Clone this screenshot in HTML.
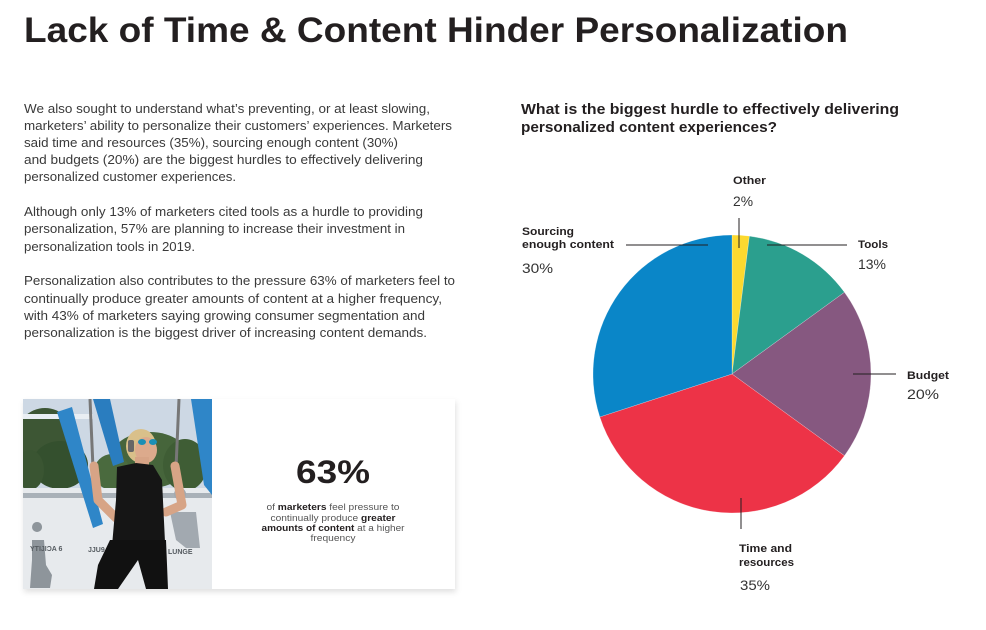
<!DOCTYPE html>
<html><head><meta charset="utf-8"><style>
html,body{margin:0;padding:0;background:#fff;}
svg{display:block;}
text{font-family:"Liberation Sans",sans-serif;}
</style></head><body>
<svg width="986" height="630" viewBox="0 0 986 630" xmlns="http://www.w3.org/2000/svg">
<defs>
<filter id="sh" x="-10%" y="-10%" width="120%" height="125%">
<feDropShadow dx="1" dy="3" stdDeviation="3" flood-color="#000" flood-opacity="0.12"/>
</filter>
<clipPath id="pc"><rect x="23" y="399" width="189" height="190"/></clipPath>
</defs>
<rect width="986" height="630" fill="#fff"/>

<!-- Title -->
<text x="24" y="42" font-size="35" font-weight="bold" fill="#231f20" textLength="824" lengthAdjust="spacingAndGlyphs">Lack of Time &amp; Content Hinder Personalization</text>

<!-- Body paragraphs -->
<g font-size="12.5" fill="#3a3a3a">
<text x="24" y="113" textLength="406" lengthAdjust="spacingAndGlyphs">We also sought to understand what’s preventing, or at least slowing,</text>
<text x="24" y="130" textLength="428" lengthAdjust="spacingAndGlyphs">marketers’ ability to personalize their customers’ experiences. Marketers</text>
<text x="24" y="147" textLength="374" lengthAdjust="spacingAndGlyphs">said time and resources (35%), sourcing enough content (30%)</text>
<text x="24" y="164" textLength="399" lengthAdjust="spacingAndGlyphs">and budgets (20%) are the biggest hurdles to effectively delivering</text>
<text x="24" y="181" textLength="212" lengthAdjust="spacingAndGlyphs">personalized customer experiences.</text>
<text x="24" y="216" textLength="399" lengthAdjust="spacingAndGlyphs">Although only 13% of marketers cited tools as a hurdle to providing</text>
<text x="24" y="233" textLength="381" lengthAdjust="spacingAndGlyphs">personalization, 57% are planning to increase their investment in</text>
<text x="24" y="251" textLength="171" lengthAdjust="spacingAndGlyphs">personalization tools in 2019.</text>
<text x="24" y="285" textLength="431" lengthAdjust="spacingAndGlyphs">Personalization also contributes to the pressure 63% of marketers feel to</text>
<text x="24" y="303" textLength="418" lengthAdjust="spacingAndGlyphs">continually produce greater amounts of content at a higher frequency,</text>
<text x="24" y="320" textLength="401" lengthAdjust="spacingAndGlyphs">with 43% of marketers saying growing consumer segmentation and</text>
<text x="24" y="337" textLength="403" lengthAdjust="spacingAndGlyphs">personalization is the biggest driver of increasing content demands.</text>
</g>

<!-- Card -->
<rect x="23" y="399" width="432" height="190" fill="#fff" filter="url(#sh)"/>
<g clip-path="url(#pc)">
  <rect x="23" y="399" width="189" height="190" fill="#cdd8e4"/>
  <!-- trees -->
  <ellipse cx="45" cy="440" rx="30" ry="32" fill="#3d5634"/>
  <ellipse cx="60" cy="465" rx="28" ry="24" fill="#34502e"/>
  <ellipse cx="30" cy="470" rx="14" ry="20" fill="#3a5532"/>
  <rect x="23" y="414" width="70" height="5" fill="#e9eef3"/>
  <ellipse cx="150" cy="460" rx="40" ry="28" fill="#46653b"/>
  <ellipse cx="185" cy="465" rx="22" ry="26" fill="#3f5d35"/>
  <ellipse cx="112" cy="472" rx="18" ry="18" fill="#4a6a3e"/>
  <!-- wall -->
  <rect x="23" y="488" width="189" height="101" fill="#e7eaed"/>
  <rect x="23" y="493" width="189" height="5" fill="#a9b1b8"/>
  <!-- silhouettes -->
  <path d="M37 532 a5 5 0 1 1 0.1 0 M32 540 L44 540 L46 565 L52 575 L50 588 L30 588 L32 560 Z" fill="#8e959b"/>
  <path d="M180 500 a6 6 0 1 1 0.1 0 M170 512 L196 512 L200 548 L186 548 L176 540 Z" fill="#a2a9b0"/>
  <text x="30" y="551" font-size="7" font-weight="bold" fill="#555b60">YTIJIƆA 6</text>
  <text x="88" y="552" font-size="7" font-weight="bold" fill="#555b60">JJU9</text>
  <text x="168" y="554" font-size="7" font-weight="bold" fill="#555b60">LUNGE</text>
  <!-- blue bars -->
  <polygon points="57,412 72,407 103,524 93,528" fill="#2f86c8"/>
  <polygon points="93,399 110,399 124,462 113,466" fill="#2a7dbf"/>
  <polygon points="191,399 212,399 212,495 204,485" fill="#2f86c8"/>
  <!-- chains -->
  <line x1="90" y1="399" x2="93" y2="468" stroke="#777" stroke-width="3"/>
  <line x1="179" y1="399" x2="176" y2="468" stroke="#777" stroke-width="3"/>
  <!-- arms -->
  <path d="M94 466 L98 500 L116 518" stroke="#d7a486" stroke-width="9" fill="none" stroke-linecap="round" stroke-linejoin="round"/>
  <path d="M175 466 L182 505 L166 512" stroke="#d7a486" stroke-width="9" fill="none" stroke-linecap="round" stroke-linejoin="round"/>
  <!-- head -->
  <ellipse cx="141" cy="446" rx="15" ry="17" fill="#d9c08a"/>
  <ellipse cx="146" cy="450" rx="11" ry="13" fill="#dcaa8c"/>
  <rect x="135" y="457" width="14" height="10" fill="#d7a486"/>
  <ellipse cx="142" cy="442" rx="4" ry="3" fill="#1b8fb5"/>
  <ellipse cx="153" cy="442" rx="4" ry="3" fill="#1b8fb5"/>
  <rect x="128" y="440" width="6" height="12" rx="2" fill="#666"/>
  <!-- top -->
  <polygon points="117,467 136,463 153,465 162,480 165,542 112,546 116,500" fill="#151515"/>
  <!-- legs -->
  <path d="M110 540 L166 540 L168 589 L146 589 L138 560 L118 589 L94 589 L98 565 Z" fill="#111"/>
</g>
<text x="333" y="483" font-size="32" font-weight="bold" fill="#231f20" text-anchor="middle" textLength="74" lengthAdjust="spacingAndGlyphs">63%</text>
<g font-size="9" fill="#555" text-anchor="middle">
<text x="333" y="510" textLength="133" lengthAdjust="spacingAndGlyphs">of <tspan font-weight="bold" fill="#231f20">marketers</tspan> feel pressure to</text>
<text x="333" y="521" textLength="125" lengthAdjust="spacingAndGlyphs">continually produce <tspan font-weight="bold" fill="#231f20">greater</tspan></text>
<text x="333" y="531" textLength="143" lengthAdjust="spacingAndGlyphs"><tspan font-weight="bold" fill="#231f20">amounts of content</tspan> at a higher</text>
<text x="333" y="541" textLength="45" lengthAdjust="spacingAndGlyphs">frequency</text>
</g>

<!-- Chart title -->
<g font-size="14.5" font-weight="bold" fill="#231f20">
<text x="521" y="114" textLength="378" lengthAdjust="spacingAndGlyphs">What is the biggest hurdle to effectively delivering</text>
<text x="521" y="132" textLength="256" lengthAdjust="spacingAndGlyphs">personalized content experiences?</text>
</g>

<!-- Pie -->
<g stroke="#ffffff" stroke-width="0.4" stroke-opacity="0.6">
<path d="M732,374 L732,235 A139,139 0 0 1 749.42,236.10 Z" fill="#fcd92f"/>
<path d="M732,374 L749.42,236.10 A139,139 0 0 1 844.45,292.30 Z" fill="#2b9f8e"/>
<path d="M732,374 L844.45,292.30 A139,139 0 0 1 844.45,455.70 Z" fill="#865880"/>
<path d="M732,374 L844.45,455.70 A139,139 0 0 1 599.80,416.95 Z" fill="#ed3347"/>
<path d="M732,374 L599.80,416.95 A139,139 0 0 1 732,235 Z" fill="#0a86c8"/>
</g>

<!-- Leader lines -->
<g stroke="#231f20" stroke-width="1">
<line x1="739" y1="218" x2="739" y2="248"/>
<line x1="626" y1="245" x2="708" y2="245"/>
<line x1="767" y1="245" x2="847" y2="245"/>
<line x1="853" y1="374" x2="896" y2="374"/>
<line x1="741" y1="498" x2="741" y2="529"/>
</g>

<!-- Labels -->
<g fill="#231f20">
<text x="733" y="184" font-size="11" font-weight="bold" textLength="33" lengthAdjust="spacingAndGlyphs">Other</text>
<text x="733" y="206" font-size="14" fill="#333" textLength="20" lengthAdjust="spacingAndGlyphs">2%</text>
<text x="522" y="235" font-size="11" font-weight="bold" textLength="52" lengthAdjust="spacingAndGlyphs">Sourcing</text>
<text x="522" y="248" font-size="11" font-weight="bold" textLength="92" lengthAdjust="spacingAndGlyphs">enough content</text>
<text x="522" y="273" font-size="14" fill="#333" textLength="31" lengthAdjust="spacingAndGlyphs">30%</text>
<text x="858" y="248" font-size="11" font-weight="bold" textLength="30" lengthAdjust="spacingAndGlyphs">Tools</text>
<text x="858" y="269" font-size="14" fill="#333" textLength="28" lengthAdjust="spacingAndGlyphs">13%</text>
<text x="907" y="379" font-size="11" font-weight="bold" textLength="42" lengthAdjust="spacingAndGlyphs">Budget</text>
<text x="907" y="399" font-size="14" fill="#333" textLength="32" lengthAdjust="spacingAndGlyphs">20%</text>
<text x="739" y="552" font-size="11" font-weight="bold" textLength="53" lengthAdjust="spacingAndGlyphs">Time and</text>
<text x="739" y="566" font-size="11" font-weight="bold" textLength="55" lengthAdjust="spacingAndGlyphs">resources</text>
<text x="740" y="590" font-size="14" fill="#333" textLength="30" lengthAdjust="spacingAndGlyphs">35%</text>
</g>
</svg>
</body></html>
